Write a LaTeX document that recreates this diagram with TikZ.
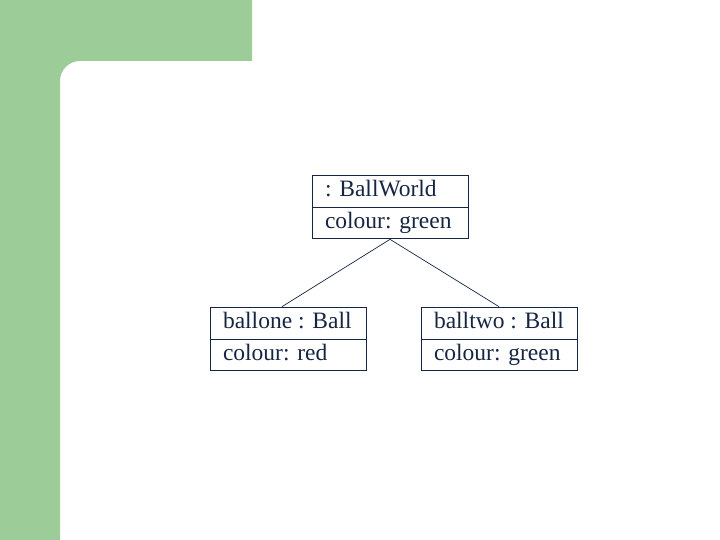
\documentclass[tikz,border=0pt]{standalone}
\usepackage{fontspec}
\setmainfont{Liberation Serif}
\usetikzlibrary{shapes.multipart}
\definecolor{ink}{RGB}{22,38,66}
\definecolor{panel}{RGB}{156,204,152}
\newcommand{\rowstrut}{\rule[-8pt]{0pt}{27pt}}
\tikzstyle{obj} = [draw=ink, line width=0.9pt, rectangle split, rectangle split parts=2,
  rectangle split part align={left}, minimum width=156pt,
  text=ink, font={\fontsize{23.5}{28}\selectfont},
  inner xsep=13pt, inner ysep=2pt]
\tikzstyle{link} = [draw=ink, line width=0.7pt]

\begin{document}
\begin{tikzpicture}[x=1pt,y=-1pt]
    \useasboundingbox (0,0) rectangle (720,540);
    \fill[panel] (0,0) -- (252,0) -- (252,61) [rounded corners=20pt] -- (60,61) [sharp corners] -- (60,540) -- (0,540) -- cycle;
    \node[obj](world) at (390,207){\rowstrut: BallWorld\nodepart{two}\rowstrut colour: green};
    \node[obj](ballone) at (288,339){\rowstrut ballone : Ball\nodepart{two}\rowstrut colour: red};
    \node[obj](balltwo) at (499,339){\rowstrut balltwo : Ball\nodepart{two}\rowstrut colour: green};
    \draw[link](world.south)--([xshift=-6pt]ballone.north);
    \draw[link](world.south)--(balltwo.north);
  \end{tikzpicture}
\end{document}
